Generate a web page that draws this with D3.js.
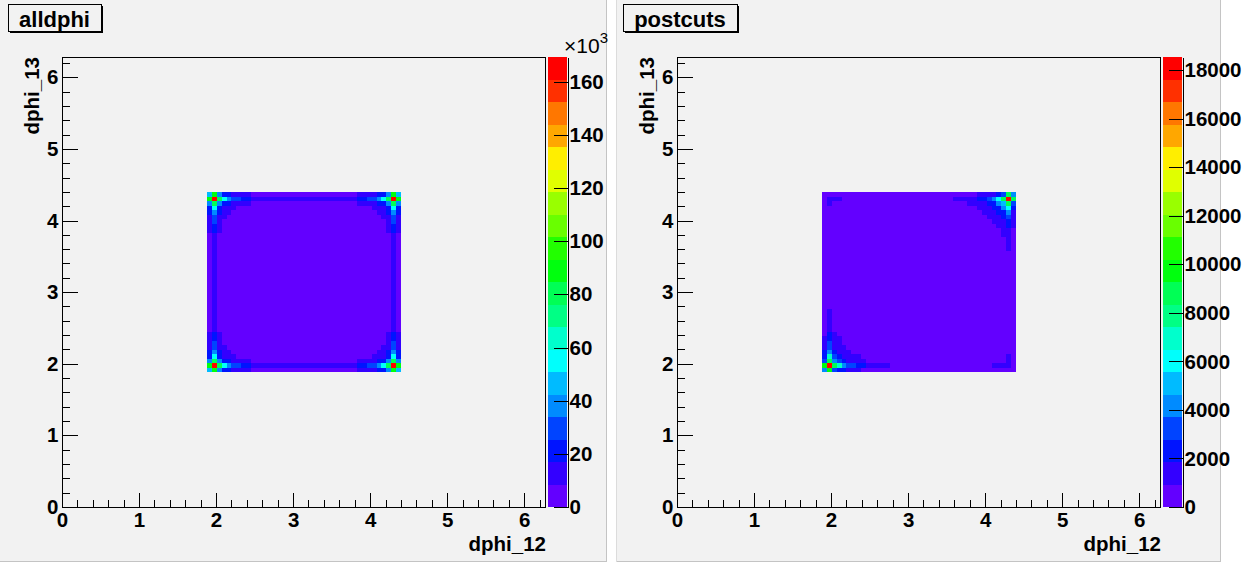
<!DOCTYPE html>
<html>
<head>
<meta charset="utf-8">
<script src="https://cdn.jsdelivr.net/npm/d3@7"></script>
<style>
  html, body { margin: 0; padding: 0; background: #ffffff; }
  svg { display: block; }
  text { font-family: "Liberation Sans", Arial, Helvetica, sans-serif; fill: #000; }
</style>
</head>
<body>
<svg id="canvas" width="1257" height="565"></svg>
<script>
// ---------------------------------------------------------------------------
// Binning: 100 x 100 bins over [0, 2pi] on both axes; bins 30..69 are filled.
// ---------------------------------------------------------------------------
const nBins = 100;
const firstBin = 30;
const axisTicks = [0, 1, 2, 3, 4, 5, 6];
const nContours = 20;

// alldphi: bin contents in units of 10^3 entries.
// Rows run from dphi_13 bin 69 (top) down to bin 30; columns are dphi_12 bins 30..69.
const alldphiCounts = [
  [47,89,38,21,21,13,13,13,13,4,  4,4,4,4,4,4,4,4,4,4,  4,4,4,4,4,4,4,4,4,4,  4,13,13,13,13,21,21,38,89,47],
  [89,169.3,80,55,38,30,30,21,21,13,  13,13,13,13,13,13,13,13,13,13,  13,13,13,13,13,13,13,13,13,13,  13,21,21,30,30,38,55,80,166,89],
  [38,80,38,21,21,13,13,13,13,5,  5,5,5,5,5,5,5,5,5,5,  5,5,5,5,5,5,5,5,5,5,  5,13,13,13,13,21,21,38,80,38],
  [21,55,21,13,13,13,5,5,5,5,  5,5,5,5,5,5,5,5,5,5,  5,5,5,5,5,5,5,5,5,5,  5,5,5,5,13,13,13,21,55,21],
  [21,38,21,13,13,5,5,5,5,5,  5,5,5,5,5,5,5,5,5,5,  5,5,5,5,5,5,5,5,5,5,  5,5,5,5,5,13,13,21,38,21],
  [13,30,13,13,5,5,5,5,5,5,  5,5,5,5,5,5,5,5,5,5,  5,5,5,5,5,5,5,5,5,5,  5,5,5,5,5,5,13,13,30,13],
  [13,30,13,5,5,5,5,5,5,5,  5,5,5,5,5,5,5,5,5,5,  5,5,5,5,5,5,5,5,5,5,  5,5,5,5,5,5,5,13,30,13],
  [13,21,13,5,5,5,5,5,5,5,  5,5,5,5,5,5,5,5,5,5,  5,5,5,5,5,5,5,5,5,5,  5,5,5,5,5,5,5,13,21,13],
  [13,21,13,5,5,5,5,5,5,5,  5,5,5,5,5,5,5,5,5,5,  5,5,5,5,5,5,5,5,5,5,  5,5,5,5,5,5,5,13,21,13],
  [4,13,5,5,5,5,5,5,5,5,  5,5,5,5,5,5,5,5,5,5,  5,5,5,5,5,5,5,5,5,5,  5,5,5,5,5,5,5,5,13,4],
  [4,13,5,5,5,5,5,5,5,5,  5,5,5,5,5,5,5,5,5,5,  5,5,5,5,5,5,5,5,5,5,  5,5,5,5,5,5,5,5,13,4],
  [4,13,5,5,5,5,5,5,5,5,  5,5,5,5,5,5,5,5,5,5,  5,5,5,5,5,5,5,5,5,5,  5,5,5,5,5,5,5,5,13,4],
  [4,13,5,5,5,5,5,5,5,5,  5,5,5,5,5,5,5,5,5,5,  5,5,5,5,5,5,5,5,5,5,  5,5,5,5,5,5,5,5,13,4],
  [4,13,5,5,5,5,5,5,5,5,  5,5,5,5,5,5,5,5,5,5,  5,5,5,5,5,5,5,5,5,5,  5,5,5,5,5,5,5,5,13,4],
  [4,13,5,5,5,5,5,5,5,5,  5,5,5,5,5,5,5,5,5,5,  5,5,5,5,5,5,5,5,5,5,  5,5,5,5,5,5,5,5,13,4],
  [4,13,5,5,5,5,5,5,5,5,  5,5,5,5,5,5,5,5,5,5,  5,5,5,5,5,5,5,5,5,5,  5,5,5,5,5,5,5,5,13,4],
  [4,13,5,5,5,5,5,5,5,5,  5,5,5,5,5,5,5,5,5,5,  5,5,5,5,5,5,5,5,5,5,  5,5,5,5,5,5,5,5,13,4],
  [4,13,5,5,5,5,5,5,5,5,  5,5,5,5,5,5,5,5,5,5,  5,5,5,5,5,5,5,5,5,5,  5,5,5,5,5,5,5,5,13,4],
  [4,13,5,5,5,5,5,5,5,5,  5,5,5,5,5,5,5,5,5,5,  5,5,5,5,5,5,5,5,5,5,  5,5,5,5,5,5,5,5,13,4],
  [4,13,5,5,5,5,5,5,5,5,  5,5,5,5,5,5,5,5,5,5,  5,5,5,5,5,5,5,5,5,5,  5,5,5,5,5,5,5,5,13,4],
  [4,13,5,5,5,5,5,5,5,5,  5,5,5,5,5,5,5,5,5,5,  5,5,5,5,5,5,5,5,5,5,  5,5,5,5,5,5,5,5,13,4],
  [4,13,5,5,5,5,5,5,5,5,  5,5,5,5,5,5,5,5,5,5,  5,5,5,5,5,5,5,5,5,5,  5,5,5,5,5,5,5,5,13,4],
  [4,13,5,5,5,5,5,5,5,5,  5,5,5,5,5,5,5,5,5,5,  5,5,5,5,5,5,5,5,5,5,  5,5,5,5,5,5,5,5,13,4],
  [4,13,5,5,5,5,5,5,5,5,  5,5,5,5,5,5,5,5,5,5,  5,5,5,5,5,5,5,5,5,5,  5,5,5,5,5,5,5,5,13,4],
  [4,13,5,5,5,5,5,5,5,5,  5,5,5,5,5,5,5,5,5,5,  5,5,5,5,5,5,5,5,5,5,  5,5,5,5,5,5,5,5,13,4],
  [4,13,5,5,5,5,5,5,5,5,  5,5,5,5,5,5,5,5,5,5,  5,5,5,5,5,5,5,5,5,5,  5,5,5,5,5,5,5,5,13,4],
  [4,13,5,5,5,5,5,5,5,5,  5,5,5,5,5,5,5,5,5,5,  5,5,5,5,5,5,5,5,5,5,  5,5,5,5,5,5,5,5,13,4],
  [4,13,5,5,5,5,5,5,5,5,  5,5,5,5,5,5,5,5,5,5,  5,5,5,5,5,5,5,5,5,5,  5,5,5,5,5,5,5,5,13,4],
  [4,13,5,5,5,5,5,5,5,5,  5,5,5,5,5,5,5,5,5,5,  5,5,5,5,5,5,5,5,5,5,  5,5,5,5,5,5,5,5,13,4],
  [4,13,5,5,5,5,5,5,5,5,  5,5,5,5,5,5,5,5,5,5,  5,5,5,5,5,5,5,5,5,5,  5,5,5,5,5,5,5,5,13,4],
  [4,13,5,5,5,5,5,5,5,5,  5,5,5,5,5,5,5,5,5,5,  5,5,5,5,5,5,5,5,5,5,  5,5,5,5,5,5,5,5,13,4],
  [13,21,13,5,5,5,5,5,5,5,  5,5,5,5,5,5,5,5,5,5,  5,5,5,5,5,5,5,5,5,5,  5,5,5,5,5,5,5,13,21,13],
  [13,21,13,5,5,5,5,5,5,5,  5,5,5,5,5,5,5,5,5,5,  5,5,5,5,5,5,5,5,5,5,  5,5,5,5,5,5,5,13,21,13],
  [13,30,13,5,5,5,5,5,5,5,  5,5,5,5,5,5,5,5,5,5,  5,5,5,5,5,5,5,5,5,5,  5,5,5,5,5,5,5,13,30,13],
  [13,30,13,13,5,5,5,5,5,5,  5,5,5,5,5,5,5,5,5,5,  5,5,5,5,5,5,5,5,5,5,  5,5,5,5,5,5,13,13,30,13],
  [21,38,21,13,13,5,5,5,5,5,  5,5,5,5,5,5,5,5,5,5,  5,5,5,5,5,5,5,5,5,5,  5,5,5,5,5,13,13,21,38,21],
  [21,55,21,13,13,13,5,5,5,5,  5,5,5,5,5,5,5,5,5,5,  5,5,5,5,5,5,5,5,5,5,  5,5,5,5,13,13,13,21,55,21],
  [38,80,38,21,21,13,13,13,13,5,  5,5,5,5,5,5,5,5,5,5,  5,5,5,5,5,5,5,5,5,5,  5,13,13,13,13,21,21,38,80,38],
  [89,168,80,55,38,30,30,21,21,13,  13,13,13,13,13,13,13,13,13,13,  13,13,13,13,13,13,13,13,13,13,  13,21,21,30,30,38,55,80,167,89],
  [47,89,38,21,21,13,13,13,13,4,  4,4,4,4,4,4,4,4,4,4,  4,4,4,4,4,4,4,4,4,4,  4,13,13,13,13,21,21,38,89,47]
];

// postcuts: bin contents in entries, same row/column layout as above.
const postcutsCounts = [
  [300,300,300,300,300,300,300,300,300,300,  300,300,300,300,300,300,300,300,300,300,  300,300,300,300,300,300,300,300,300,300,  300,300,1400,1400,1400,1400,2300,3200,8800,4200],
  [300,1400,1400,1400,420,420,420,420,420,420,  420,420,420,420,420,420,420,420,420,420,  420,420,420,420,420,420,420,1400,1400,1400,  1400,1400,2300,2300,3200,4200,6000,8800,18550,8800],
  [300,1400,420,420,420,420,420,420,420,420,  420,420,420,420,420,420,420,420,420,420,  420,420,420,420,420,420,420,420,420,420,  1400,1400,1400,1400,2300,2300,4200,5100,8800,3200],
  [300,420,420,420,420,420,420,420,420,420,  420,420,420,420,420,420,420,420,420,420,  420,420,420,420,420,420,420,420,420,420,  420,420,1400,1400,1400,2300,2300,4200,6000,2300],
  [300,420,420,420,420,420,420,420,420,420,  420,420,420,420,420,420,420,420,420,420,  420,420,420,420,420,420,420,420,420,420,  420,420,420,1400,1400,1400,2300,2300,4200,1400],
  [300,420,420,420,420,420,420,420,420,420,  420,420,420,420,420,420,420,420,420,420,  420,420,420,420,420,420,420,420,420,420,  420,420,420,420,1400,1400,1400,2300,3200,1400],
  [300,420,420,420,420,420,420,420,420,420,  420,420,420,420,420,420,420,420,420,420,  420,420,420,420,420,420,420,420,420,420,  420,420,420,420,420,1400,1400,1400,2300,1400],
  [300,420,420,420,420,420,420,420,420,420,  420,420,420,420,420,420,420,420,420,420,  420,420,420,420,420,420,420,420,420,420,  420,420,420,420,420,420,1400,1400,2300,1400],
  [300,420,420,420,420,420,420,420,420,420,  420,420,420,420,420,420,420,420,420,420,  420,420,420,420,420,420,420,420,420,420,  420,420,420,420,420,420,420,1400,1400,300],
  [300,420,420,420,420,420,420,420,420,420,  420,420,420,420,420,420,420,420,420,420,  420,420,420,420,420,420,420,420,420,420,  420,420,420,420,420,420,420,1400,1400,300],
  [300,420,420,420,420,420,420,420,420,420,  420,420,420,420,420,420,420,420,420,420,  420,420,420,420,420,420,420,420,420,420,  420,420,420,420,420,420,420,420,1400,300],
  [300,420,420,420,420,420,420,420,420,420,  420,420,420,420,420,420,420,420,420,420,  420,420,420,420,420,420,420,420,420,420,  420,420,420,420,420,420,420,420,1400,300],
  [300,420,420,420,420,420,420,420,420,420,  420,420,420,420,420,420,420,420,420,420,  420,420,420,420,420,420,420,420,420,420,  420,420,420,420,420,420,420,420,1400,300],
  [300,420,420,420,420,420,420,420,420,420,  420,420,420,420,420,420,420,420,420,420,  420,420,420,420,420,420,420,420,420,420,  420,420,420,420,420,420,420,420,420,300],
  [300,420,420,420,420,420,420,420,420,420,  420,420,420,420,420,420,420,420,420,420,  420,420,420,420,420,420,420,420,420,420,  420,420,420,420,420,420,420,420,420,300],
  [300,420,420,420,420,420,420,420,420,420,  420,420,420,420,420,420,420,420,420,420,  420,420,420,420,420,420,420,420,420,420,  420,420,420,420,420,420,420,420,420,300],
  [300,420,420,420,420,420,420,420,420,420,  420,420,420,420,420,420,420,420,420,420,  420,420,420,420,420,420,420,420,420,420,  420,420,420,420,420,420,420,420,420,300],
  [300,420,420,420,420,420,420,420,420,420,  420,420,420,420,420,420,420,420,420,420,  420,420,420,420,420,420,420,420,420,420,  420,420,420,420,420,420,420,420,420,300],
  [300,420,420,420,420,420,420,420,420,420,  420,420,420,420,420,420,420,420,420,420,  420,420,420,420,420,420,420,420,420,420,  420,420,420,420,420,420,420,420,420,300],
  [300,420,420,420,420,420,420,420,420,420,  420,420,420,420,420,420,420,420,420,420,  420,420,420,420,420,420,420,420,420,420,  420,420,420,420,420,420,420,420,420,300],
  [300,420,420,420,420,420,420,420,420,420,  420,420,420,420,420,420,420,420,420,420,  420,420,420,420,420,420,420,420,420,420,  420,420,420,420,420,420,420,420,420,300],
  [300,420,420,420,420,420,420,420,420,420,  420,420,420,420,420,420,420,420,420,420,  420,420,420,420,420,420,420,420,420,420,  420,420,420,420,420,420,420,420,420,300],
  [300,420,420,420,420,420,420,420,420,420,  420,420,420,420,420,420,420,420,420,420,  420,420,420,420,420,420,420,420,420,420,  420,420,420,420,420,420,420,420,420,300],
  [300,420,420,420,420,420,420,420,420,420,  420,420,420,420,420,420,420,420,420,420,  420,420,420,420,420,420,420,420,420,420,  420,420,420,420,420,420,420,420,420,300],
  [300,420,420,420,420,420,420,420,420,420,  420,420,420,420,420,420,420,420,420,420,  420,420,420,420,420,420,420,420,420,420,  420,420,420,420,420,420,420,420,420,300],
  [300,420,420,420,420,420,420,420,420,420,  420,420,420,420,420,420,420,420,420,420,  420,420,420,420,420,420,420,420,420,420,  420,420,420,420,420,420,420,420,420,300],
  [300,1400,420,420,420,420,420,420,420,420,  420,420,420,420,420,420,420,420,420,420,  420,420,420,420,420,420,420,420,420,420,  420,420,420,420,420,420,420,420,420,300],
  [300,1400,420,420,420,420,420,420,420,420,  420,420,420,420,420,420,420,420,420,420,  420,420,420,420,420,420,420,420,420,420,  420,420,420,420,420,420,420,420,420,300],
  [300,1400,420,420,420,420,420,420,420,420,  420,420,420,420,420,420,420,420,420,420,  420,420,420,420,420,420,420,420,420,420,  420,420,420,420,420,420,420,420,420,300],
  [300,1400,420,420,420,420,420,420,420,420,  420,420,420,420,420,420,420,420,420,420,  420,420,420,420,420,420,420,420,420,420,  420,420,420,420,420,420,420,420,420,300],
  [300,1400,420,420,420,420,420,420,420,420,  420,420,420,420,420,420,420,420,420,420,  420,420,420,420,420,420,420,420,420,420,  420,420,420,420,420,420,420,420,420,300],
  [300,2300,1400,420,420,420,420,420,420,420,  420,420,420,420,420,420,420,420,420,420,  420,420,420,420,420,420,420,420,420,420,  420,420,420,420,420,420,420,420,420,300],
  [1400,2300,1400,1400,420,420,420,420,420,420,  420,420,420,420,420,420,420,420,420,420,  420,420,420,420,420,420,420,420,420,420,  420,420,420,420,420,420,420,420,420,300],
  [1400,3200,1400,1400,420,420,420,420,420,420,  420,420,420,420,420,420,420,420,420,420,  420,420,420,420,420,420,420,420,420,420,  420,420,420,420,420,420,420,420,420,300],
  [1400,3200,1400,1400,1400,420,420,420,420,420,  420,420,420,420,420,420,420,420,420,420,  420,420,420,420,420,420,420,420,420,420,  420,420,420,420,420,420,420,420,420,300],
  [2300,4200,2300,1400,1400,1400,420,420,420,420,  420,420,420,420,420,420,420,420,420,420,  420,420,420,420,420,420,420,420,420,420,  420,420,420,420,420,420,420,420,420,300],
  [2300,7000,3200,2300,1400,1400,1400,1400,420,420,  420,420,420,420,420,420,420,420,420,420,  420,420,420,420,420,420,420,420,420,420,  420,420,420,420,420,420,420,420,1400,300],
  [3200,8800,4200,3200,2300,1400,1400,1400,1400,420,  420,420,420,420,420,420,420,420,420,420,  420,420,420,420,420,420,420,420,420,420,  420,420,420,420,420,420,420,420,1400,300],
  [9700,18200,8800,7000,4200,3200,3200,2300,2300,1400,  1400,1400,1400,1400,420,420,420,420,420,420,  420,420,420,420,420,420,420,420,420,420,  420,420,420,420,420,1400,1400,1400,1400,300],
  [4200,9700,3200,2300,2300,1400,1400,1400,300,300,  300,300,300,300,300,300,300,300,300,300,  300,300,300,300,300,300,300,300,300,300,  300,300,300,300,300,300,300,300,300,300]
];

[alldphiCounts, postcutsCounts].forEach((grid, k) => {
  if (grid.length !== 40 || grid.some(row => row.length !== 40)) {
    throw new Error('histogram ' + k + ' is not 40 x 40');
  }
});

// ---------------------------------------------------------------------------
// Colour palette: 20 contour levels taken from the 50-step "pretty" rainbow
// (hue 280 -> 0, lightness 0.5, saturation 1).
// ---------------------------------------------------------------------------
const palette = d3.range(nContours).map(j => {
  const idx = Math.floor((j + 0.99) * 50 / nContours);
  return d3.hsl(280 - (idx + 1) * 5.6, 1, 0.5).formatHex();
});

const FONT = '"Liberation Sans", Arial, Helvetica, sans-serif';
const LABEL_SIZE = 20.5;
const svg = d3.select('#canvas');

// Pads: light grey panels on a white canvas with a thin grey edge.
const pads = [
  { x: 0,   w: 607, h: 562 },
  { x: 616, w: 605, h: 562 }
];
pads.forEach((p, i) => {
  const g = svg.append('g');
  g.append('rect').attr('x', p.x).attr('y', 0).attr('width', p.w).attr('height', p.h)
    .attr('fill', '#f2f2f2');
  g.append('line').attr('x1', p.x + p.w - 0.5).attr('x2', p.x + p.w - 0.5)
    .attr('y1', 0).attr('y2', p.h).attr('stroke', '#c4c4c4');
  g.append('line').attr('x1', p.x).attr('x2', p.x + p.w)
    .attr('y1', p.h - 0.5).attr('y2', p.h - 0.5).attr('stroke', '#c4c4c4');
  if (i > 0) {
    g.append('line').attr('x1', p.x + 0.5).attr('x2', p.x + 0.5)
      .attr('y1', 0).attr('y2', p.h).attr('stroke', '#dcdcdc');
  }
});

const panels = [
  { title: 'alldphi',  counts: alldphiCounts,  originX: 0,   exponent: '3' },
  { title: 'postcuts', counts: postcutsCounts, originX: 615, exponent: null }
];

const frame = { x0: 62, x1: 546, y0: 57, y1: 507 };
const binWidth = 2 * Math.PI / nBins;

function styleText(sel, size, weight) {
  sel.attr('font-family', FONT).attr('font-size', size).attr('font-weight', weight)
     .attr('fill', '#000');
}

panels.forEach(panel => {
  const g = svg.append('g').attr('transform', `translate(${panel.originX},0)`);

  const x = d3.scaleLinear().domain([0, 2 * Math.PI]).range([frame.x0, frame.x1]);
  const y = d3.scaleLinear().domain([0, 2 * Math.PI]).range([frame.y1, frame.y0]);

  const zMax = d3.max(panel.counts.flat());
  const zColor = d3.scaleQuantize().domain([0, zMax]).range(palette);
  const zAxis = d3.scaleLinear().domain([0, zMax]).range([frame.y1, frame.y0]);

  // Histogram cells
  const cells = [];
  panel.counts.forEach((row, r) => {
    row.forEach((v, c) => {
      cells.push({ ix: firstBin + c, iy: firstBin + (panel.counts.length - 1 - r), v });
    });
  });
  g.append('g').attr('shape-rendering', 'crispEdges')
    .selectAll('rect').data(cells.filter(d => d.v > 0)).join('rect')
    .attr('x', d => x(d.ix * binWidth))
    .attr('y', d => y((d.iy + 1) * binWidth))
    .attr('width', d => x((d.ix + 1) * binWidth) - x(d.ix * binWidth))
    .attr('height', d => y(d.iy * binWidth) - y((d.iy + 1) * binWidth))
    .attr('fill', d => zColor(d.v));

  // Frame
  g.append('rect').attr('x', frame.x0 + 0.5).attr('y', frame.y0 + 0.5)
    .attr('width', frame.x1 - frame.x0 - 1).attr('height', frame.y1 - frame.y0)
    .attr('fill', 'none').attr('stroke', '#000').attr('stroke-width', 1);

  const minorVals = d3.range(1, 32).filter(i => i % 5 !== 0).map(i => i * 0.2);

  // X axis
  const xAxisG = g.append('g').attr('transform', `translate(0,${frame.y1 + 0.5})`)
    .attr('shape-rendering', 'crispEdges');
  xAxisG.append('g').call(d3.axisBottom(x).tickValues(minorVals).tickSize(-7.5).tickFormat(''))
    .call(s => s.select('.domain').remove());
  xAxisG.append('g').call(d3.axisBottom(x).tickValues(axisTicks).tickSize(-15).tickPadding(5)
      .tickFormat(d3.format('d')))
    .call(s => s.select('.domain').remove())
    .call(s => styleText(s.selectAll('text'), LABEL_SIZE, 'bold'));

  // Y axis
  const yAxisG = g.append('g').attr('transform', `translate(${frame.x0 + 0.5},0)`)
    .attr('shape-rendering', 'crispEdges');
  yAxisG.append('g').call(d3.axisLeft(y).tickValues(minorVals).tickSize(-7.5).tickFormat(''))
    .call(s => s.select('.domain').remove());
  yAxisG.append('g').call(d3.axisLeft(y).tickValues(axisTicks).tickSize(-15).tickPadding(4)
      .tickFormat(d3.format('d')))
    .call(s => s.select('.domain').remove())
    .call(s => styleText(s.selectAll('text'), LABEL_SIZE, 'bold'));

  // Axis titles
  g.append('text').attr('x', frame.x1).attr('y', 551).attr('text-anchor', 'end')
    .text('dphi_12').call(s => styleText(s, LABEL_SIZE, 'bold'));
  g.append('text').attr('transform', `translate(39,${frame.y0}) rotate(-90)`)
    .attr('text-anchor', 'end')
    .text('dphi_13').call(s => styleText(s, LABEL_SIZE, 'bold'));

  // Colour bar
  const barL = frame.x1 + 2, barR = frame.x1 + 21;
  const levels = d3.range(nContours);
  g.append('g').attr('shape-rendering', 'crispEdges')
    .selectAll('rect').data(levels).join('rect')
    .attr('x', barL).attr('width', barR - barL)
    .attr('y', j => zAxis((j + 1) * zMax / nContours))
    .attr('height', j => zAxis(j * zMax / nContours) - zAxis((j + 1) * zMax / nContours))
    .attr('fill', j => palette[j]);
  g.append('g').attr('transform', `translate(${barR + 0.5},0)`)
    .attr('shape-rendering', 'crispEdges')
    .call(d3.axisRight(zAxis).tickValues(zAxis.ticks(10)).tickSize(-14).tickSizeOuter(0)
      .tickPadding(2).tickFormat(d3.format('d')))
    .call(s => s.select('.domain').attr('stroke', '#000'))
    .call(s => styleText(s.selectAll('text'), LABEL_SIZE, 'bold'));

  if (panel.exponent) {
    const t = g.append('text').attr('x', barL + 16).attr('y', 53);
    styleText(t, 21, 'normal');
    t.append('tspan').text('\u00d710');
    t.append('tspan').attr('dy', -10).attr('font-size', 15).text(panel.exponent);
  }

  // Title box with drop shadow
  const titleG = g.append('g');
  const titleText = titleG.append('text').attr('y', 27).attr('text-anchor', 'middle')
    .text(panel.title);
  styleText(titleText, 22, 'bold');
  const tw = titleText.node().getComputedTextLength();
  const boxX = 8;
  const boxW = Math.round(tw + 22);
  titleText.attr('x', boxX + boxW / 2);
  titleG.insert('rect', 'text').attr('x', boxX + 2).attr('y', 6).attr('width', boxW).attr('height', 27)
    .attr('fill', '#000');
  titleG.insert('rect', 'text').attr('x', boxX + 0.5).attr('y', 4.5).attr('width', boxW).attr('height', 27)
    .attr('fill', '#f2f2f2').attr('stroke', '#000').attr('stroke-width', 1);
});
</script>
</body>
</html>
